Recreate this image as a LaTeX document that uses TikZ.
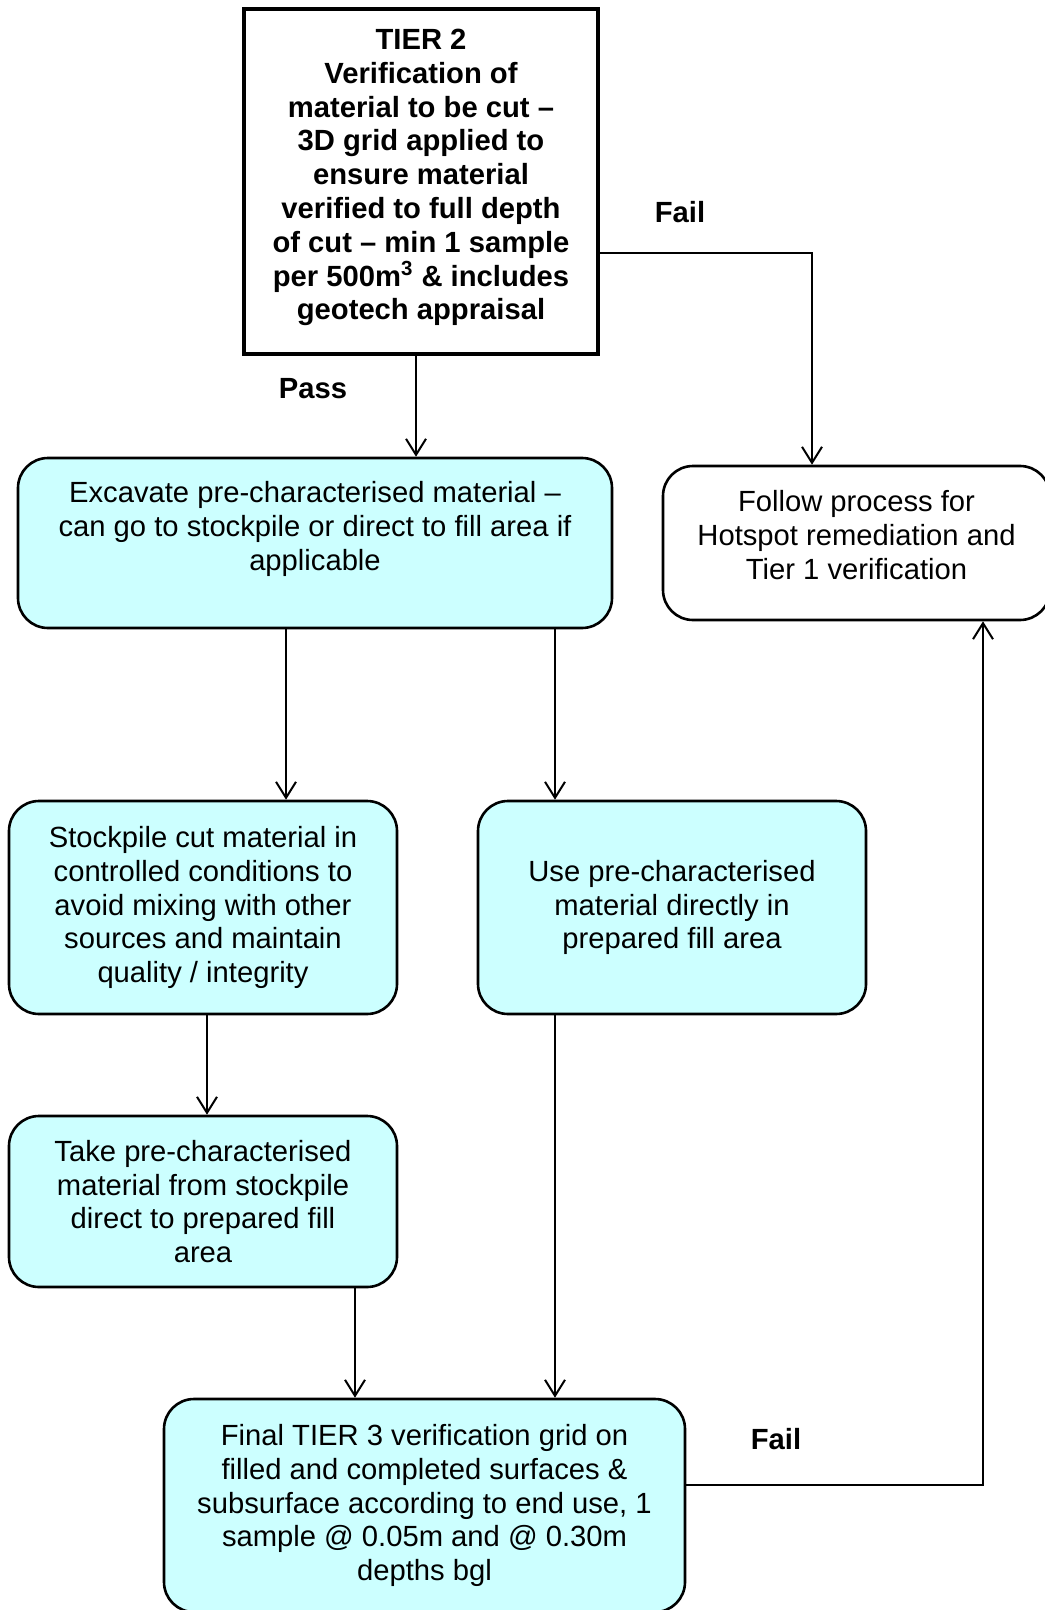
\documentclass[tikz,border=0pt]{standalone}
\usepackage{fontspec}
\setmainfont{Liberation Sans}
\usetikzlibrary{arrows.meta,positioning}
\definecolor{boxcyan}{HTML}{CCFFFF}

\begin{document}
\begin{tikzpicture}[x=0.5pt,y=-0.5pt,
      box_tier/.style={
         rectangle,
         draw=black,
         line width=2pt,
         fill=white,
         inner sep=0pt,
         align=center,
         font=\fontsize{14.6pt}{16.9pt}\selectfont\bfseries},
      box_round/.style={
         rectangle,
         rounded corners=15pt,
         draw=black,
         line width=1.3pt,
         fill=boxcyan,
         inner sep=0pt,
         align=center,
         font=\fontsize{14.6pt}{16.9pt}\selectfont},
      box_white/.style={
         box_round,
         fill=white},
      label_bold/.style={
         font=\fontsize{14.6pt}{16.9pt}\selectfont\bfseries},
      arrow_black/.style={
         -{Straight Barb[length=8pt,width=10pt]},
         line width=1pt}
]
      \useasboundingbox (0,0) rectangle (1044,1610);

      %tier 2 check
      \node[box_tier,minimum width=177pt,minimum height=172.5pt] (t2) at (421,181.5)
         {TIER 2\\Verification of\\material to be cut --\\3D grid applied to\\ensure material\\verified to full depth\\of cut -- min 1 sample\\per 500m\textsuperscript{3} \& includes\\geotech appraisal\\[-9.9pt]\mbox{}};

      \node[box_round,minimum width=297pt,minimum height=85pt] (exc) at (315,543)
         {Excavate pre-characterised material --\\can go to stockpile or direct to fill area if\\applicable\\\mbox{}};
      \node[box_white,minimum width=193.5pt,minimum height=77pt] (hot) at (856.5,543)
         {Follow process for\\Hotspot remediation and\\Tier 1 verification\\[-8.9pt]\mbox{}};

      \node[box_round,minimum width=194pt,minimum height=106.5pt] (stock) at (203,907.5)
         {Stockpile cut material in\\controlled conditions to\\avoid mixing with other\\sources and maintain\\quality / integrity};
      \node[box_round,minimum width=194pt,minimum height=106.5pt] (use) at (672,907.5)
         {Use pre-characterised\\material directly in\\prepared fill area};

      \node[box_round,minimum width=194pt,minimum height=85.5pt] (take) at (203,1201.5)
         {Take pre-characterised\\material from stockpile\\direct to prepared fill\\area};

      \node[box_round,minimum width=260.5pt,minimum height=106.5pt] (final) at (424.5,1505.5)
         {Final TIER 3 verification grid on\\filled and completed surfaces \&\\subsurface according to end use, 1\\sample @ 0.05m and @ 0.30m\\depths bgl};

      %labels
      \node[label_bold] (pass) at (313,389) {Pass};
      \node[label_bold] (fail1) at (680,212) {Fail};
      \node[label_bold] (fail2) at (776,1439) {Fail};

    \foreach \i/\j/\s in {% start node/end node/shift
      t2/exc/-2.5pt,
      exc/stock/-14.5pt,
      exc/use/120pt,
      stock/take/2pt,
      take/final/76pt,
      use/final/-58.5pt}
      \draw [arrow_black] ([xshift=\s]\i.south) -- ([xshift=\s]\i.south |- \j.north);

      %fail loops
      \draw [arrow_black] ([yshift=-35.75pt]t2.east) -| ([xshift=-22.25pt]hot.north);
      \draw [arrow_black] ([yshift=10.25pt]final.east) -| ([xshift=63.25pt]hot.south);

\end{tikzpicture}
\end{document}
